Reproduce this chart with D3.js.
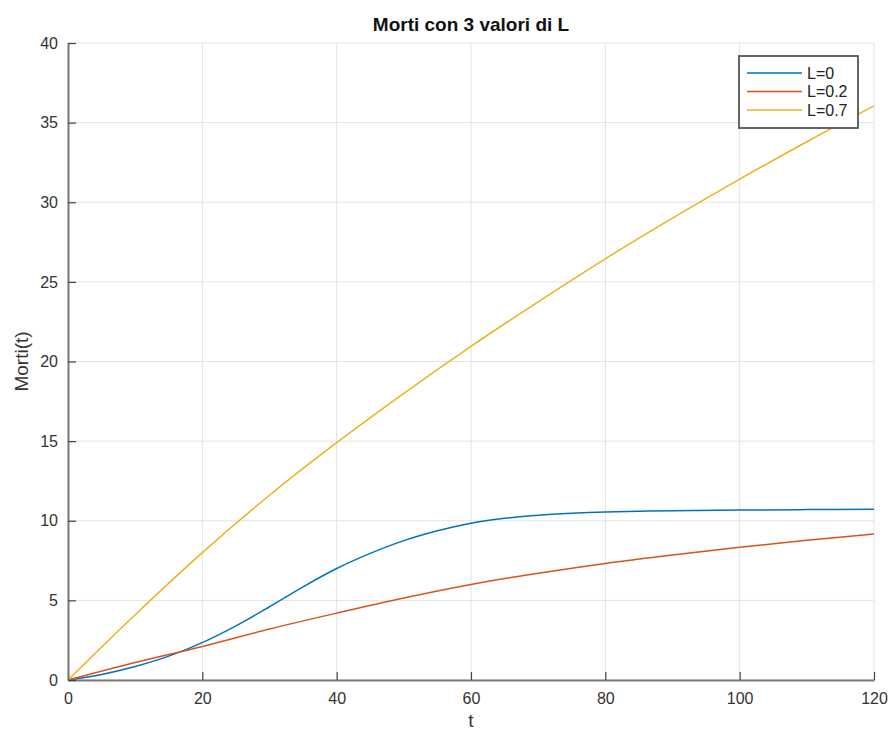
<!DOCTYPE html>
<html>
<head>
<meta charset="utf-8">
<script src="https://cdn.jsdelivr.net/npm/d3@7"></script>
<style>
  html, body { margin: 0; padding: 0; background: #fff; }
  svg { display: block; font-family: "Liberation Sans", Arial, Helvetica, sans-serif; }
</style>
</head>
<body>
<svg id="chart" width="891" height="735"></svg>
<script>
// ---- data ----
const tBlue   = [0, 5, 10, 15, 20, 25, 30, 35, 40, 45, 50, 55, 60, 65, 70, 75, 80, 90, 100, 110, 120];
const valBlue = [0, 0.35, 0.85, 1.5, 2.35, 3.4, 4.6, 5.85, 7.0, 7.95, 8.75, 9.37, 9.85, 10.15, 10.35, 10.47, 10.55, 10.63, 10.67, 10.7, 10.72];
const tOther    = [0, 10, 20, 30, 40, 50, 60, 70, 80, 90, 100, 110, 120];
const valOrange = [0, 1.1, 2.1, 3.2, 4.2, 5.15, 6.0, 6.7, 7.32, 7.85, 8.33, 8.77, 9.17];
const valYellow = [0, 4.1, 8.0, 11.6, 14.9, 18.0, 20.95, 23.75, 26.45, 29.0, 31.45, 33.8, 36.05];
const seriesNames = ["L=0", "L=0.2", "L=0.7"];
const xTicks = [0, 20, 40, 60, 80, 100, 120];
const yTicks = [0, 5, 10, 15, 20, 25, 30, 35, 40];
const titleText = "Morti con 3 valori di L";
const xLabel = "t";
const yLabel = "Morti(t)";

const colors = ["#0072BD", "#D95319", "#EDB120"];
const series = [
  { name: seriesNames[0], t: tBlue,  v: valBlue,   color: colors[0] },
  { name: seriesNames[1], t: tOther, v: valOrange, color: colors[1] },
  { name: seriesNames[2], t: tOther, v: valYellow, color: colors[2] }
];

// ---- layout ----
const svg = d3.select("#chart");
const mLeft = 68, mRight = 874, mTop = 43, mBottom = 680;
const x = d3.scaleLinear().domain([0, 120]).range([mLeft, mRight]);
const y = d3.scaleLinear().domain([0, 40]).range([mBottom, mTop]);

// grid
const grid = svg.append("g");
grid.selectAll("line.vx").data(xTicks).enter().append("line")
  .attr("x1", d => x(d)).attr("x2", d => x(d))
  .attr("y1", mTop).attr("y2", mBottom)
  .attr("stroke", "#e3e3e3").attr("stroke-width", 1);
grid.selectAll("line.hy").data(yTicks).enter().append("line")
  .attr("x1", mLeft).attr("x2", mRight)
  .attr("y1", d => y(d)).attr("y2", d => y(d))
  .attr("stroke", "#e3e3e3").attr("stroke-width", 1);

// lines
const line = d3.line().curve(d3.curveCatmullRom.alpha(0.5));
series.forEach(s => {
  const pts = s.t.map((tt, i) => [x(tt), y(s.v[i])]);
  svg.append("path")
    .attr("d", line(pts))
    .attr("fill", "none")
    .attr("stroke", s.color)
    .attr("stroke-width", 1.5);
});

// axes
const xAxis = d3.axisBottom(x).tickValues(xTicks).tickSizeInner(-8).tickSizeOuter(0).tickPadding(14);
const yAxis = d3.axisLeft(y).tickValues(yTicks).tickSizeInner(-8).tickSizeOuter(0).tickPadding(14);

const gx = svg.append("g").attr("transform", `translate(0,${mBottom})`).call(xAxis);
const gy = svg.append("g").attr("transform", `translate(${mLeft},0)`).call(yAxis);
[gx, gy].forEach(g => {
  g.select(".domain").attr("stroke", "#7a7a7a").attr("stroke-width", 2);
  g.selectAll(".tick line").attr("stroke", "#444").attr("stroke-width", 1.2);
  g.selectAll(".tick text").attr("fill", "#333").attr("font-size", 16)
    .attr("font-family", "'Liberation Sans', Arial, sans-serif");
});
gx.selectAll(".tick text").attr("dy", "0.71em").attr("y", 13);
gy.selectAll(".tick text").attr("x", -10);

// title
svg.append("text")
  .attr("x", (mLeft + mRight) / 2).attr("y", 31)
  .attr("text-anchor", "middle")
  .attr("font-size", 19).attr("font-weight", "bold").attr("fill", "#111")
  .text(titleText);

// axis labels
svg.append("text")
  .attr("x", (mLeft + mRight) / 2).attr("y", 727)
  .attr("text-anchor", "middle")
  .attr("font-size", 19).attr("fill", "#333")
  .text(xLabel);
svg.append("text")
  .attr("transform", `translate(28,${(mTop + mBottom) / 2}) rotate(-90)`)
  .attr("text-anchor", "middle")
  .attr("font-size", 19).attr("fill", "#333")
  .text(yLabel);

// legend
const lg = svg.append("g");
lg.append("rect")
  .attr("x", 739).attr("y", 56).attr("width", 119).attr("height", 72)
  .attr("fill", "#fff").attr("stroke", "#555").attr("stroke-width", 1.8);
series.forEach((s, i) => {
  const yy = 73 + i * 18.5;
  lg.append("line")
    .attr("x1", 747).attr("x2", 802).attr("y1", yy).attr("y2", yy)
    .attr("stroke", s.color).attr("stroke-width", 1.5);
  lg.append("text")
    .attr("x", 807).attr("y", yy).attr("dy", "0.35em")
    .attr("font-size", 16).attr("fill", "#222")
    .text(s.name);
});
</script>
</body>
</html>
